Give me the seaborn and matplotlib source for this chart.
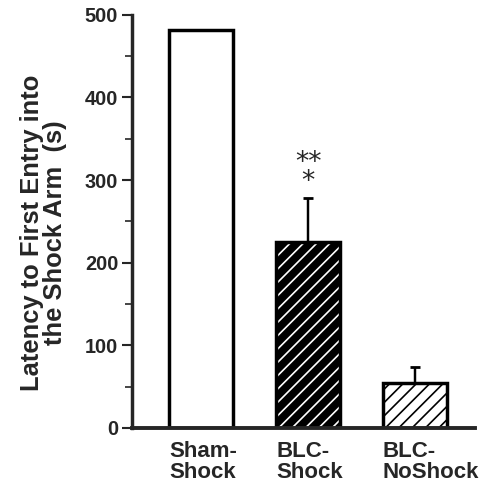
import matplotlib
matplotlib.use('Agg')
import matplotlib.pyplot as plt
import seaborn as sns
from matplotlib.ticker import MultipleLocator

groups = ['Sham-\nShock', 'BLC-\nShock', 'BLC-\nNoShock']
means = [482, 225, 54]
sems = [0, 53, 20]
fills = ['white', 'black', 'white']
hatches = ['', '//', '//']
stars = '**\n*'

BAR_W = 0.6


def main():
    sns.set_style('ticks')
    plt.rcParams['font.family'] = ['Liberation Sans', 'DejaVu Sans']
    plt.rcParams['hatch.linewidth'] = 1.5

    # dpi 80 so the hatch spacing comes out close to the original
    fig = plt.figure(figsize=(6.1, 6.1625), dpi=80)
    ax = fig.add_axes([0.270, 0.132, 0.703, 0.838])

    sns.barplot(x=groups, y=means, hue=groups, palette=fills, legend=False,
                width=BAR_W, linewidth=0, ax=ax)
    for patch, fc, h in zip(ax.patches, fills, hatches):
        patch.set_facecolor(fc)
        patch.set_hatch(h)
        patch.set_edgecolor('white' if fc == 'black' else 'black')
        patch.set_linewidth(0)

    # outlines on top of the hatched fills
    sns.barplot(x=groups, y=means, fill=False, color='black', width=BAR_W,
                linewidth=3.1, ax=ax)

    xs = list(range(len(groups)))
    ax.errorbar(xs[1:], means[1:], yerr=[[0] * 2, sems[1:]], fmt='none',
                ecolor='black', elinewidth=2.2, capsize=4.4, capthick=2.5,
                zorder=1)

    ax.text(xs[1], 309, stars, ha='center', va='center', fontsize=24,
            linespacing=0.68, family='DejaVu Sans')

    ax.set_xlim(-0.65, 2.56)
    ax.set_ylim(0, 500)
    ax.yaxis.set_major_locator(MultipleLocator(100))
    ax.yaxis.set_minor_locator(MultipleLocator(50))
    ax.tick_params(axis='y', which='major', length=8.75, width=1.9,
                   labelsize=18, pad=3.5)
    ax.tick_params(axis='y', which='minor', length=6, width=1.5)

    # labels start at each bar's left edge, as in the original
    ax.set_xticks([x - BAR_W / 2 for x in xs])
    ax.set_xticklabels(groups, ha='left', linespacing=1.0)
    ax.tick_params(axis='x', length=0, labelsize=20, pad=12)
    for lab in ax.get_xticklabels() + ax.get_yticklabels():
        lab.set_fontweight('bold')

    ax.set_ylabel('Latency to First Entry into\nthe Shock Arm  (s)',
                  fontsize=23, fontweight='bold', linespacing=0.95)
    ax.yaxis.set_label_coords(-0.19, 0.472)
    ax.set_xlabel('')
    sns.despine(ax=ax)
    ax.spines['left'].set_linewidth(3.1)
    ax.spines['bottom'].set_linewidth(3.5)

    fig.savefig('out.png', dpi=80)


if __name__ == '__main__':
    main()
